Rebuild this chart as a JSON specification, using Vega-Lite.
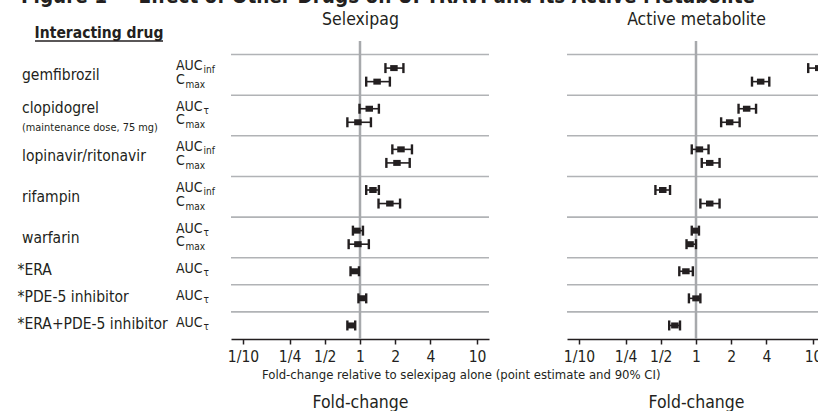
{
  "$schema": "https://vega.github.io/schema/vega-lite/v6.json",
  "background": "white",
  "padding": {"left": 0, "top": -14, "right": -7, "bottom": 0},
  "bounds": "flush",
  "spacing": 78,
  "title": {"text": "Figure 1 — Effect of Other Drugs on UPTRAVI and Its Active Metabolite", "anchor": "start", "dx": 21, "dy": 17, "fontSize": 20.5, "fontWeight": "bold", "offset": 4, "baseline": "alphabetic", "color": "#231f20"},
  "config": {
    "font": "'Liberation Sans Narrow', 'Arial Narrow', 'DejaVu Sans Condensed', sans-serif",
    "view": {"stroke": null},
    "text": {"color": "#231f20"}
  },
  "datasets": {
    "pk": [
      {"panel": "Selexipag", "row": "gem_AUC", "est": 1.95, "lo": 1.65, "hi": 2.35},
      {"panel": "Selexipag", "row": "gem_Cmax", "est": 1.40, "lo": 1.13, "hi": 1.80},
      {"panel": "Selexipag", "row": "clo_AUC", "est": 1.20, "lo": 0.99, "hi": 1.45},
      {"panel": "Selexipag", "row": "clo_Cmax", "est": 0.96, "lo": 0.78, "hi": 1.24},
      {"panel": "Selexipag", "row": "lop_AUC", "est": 2.24, "lo": 1.89, "hi": 2.78},
      {"panel": "Selexipag", "row": "lop_Cmax", "est": 2.07, "lo": 1.68, "hi": 2.66},
      {"panel": "Selexipag", "row": "rif_AUC", "est": 1.29, "lo": 1.13, "hi": 1.45},
      {"panel": "Selexipag", "row": "rif_Cmax", "est": 1.80, "lo": 1.44, "hi": 2.20},
      {"panel": "Selexipag", "row": "war_AUC", "est": 0.94, "lo": 0.87, "hi": 1.06},
      {"panel": "Selexipag", "row": "war_Cmax", "est": 0.96, "lo": 0.80, "hi": 1.19},
      {"panel": "Selexipag", "row": "ERA", "est": 0.90, "lo": 0.83, "hi": 0.98},
      {"panel": "Selexipag", "row": "PDE5", "est": 1.04, "lo": 0.97, "hi": 1.13},
      {"panel": "Selexipag", "row": "ERAPDE5", "est": 0.84, "lo": 0.78, "hi": 0.91},
      {"panel": "Active metabolite", "row": "gem_AUC", "est": 11.2, "lo": 9.1, "hi": 13.5},
      {"panel": "Active metabolite", "row": "gem_Cmax", "est": 3.57, "lo": 3.01, "hi": 4.23},
      {"panel": "Active metabolite", "row": "clo_AUC", "est": 2.71, "lo": 2.31, "hi": 3.26},
      {"panel": "Active metabolite", "row": "clo_Cmax", "est": 1.94, "lo": 1.64, "hi": 2.36},
      {"panel": "Active metabolite", "row": "lop_AUC", "est": 1.07, "lo": 0.92, "hi": 1.28},
      {"panel": "Active metabolite", "row": "lop_Cmax", "est": 1.31, "lo": 1.12, "hi": 1.59},
      {"panel": "Active metabolite", "row": "rif_AUC", "est": 0.52, "lo": 0.45, "hi": 0.60},
      {"panel": "Active metabolite", "row": "rif_Cmax", "est": 1.31, "lo": 1.09, "hi": 1.59},
      {"panel": "Active metabolite", "row": "war_AUC", "est": 1.00, "lo": 0.92, "hi": 1.06},
      {"panel": "Active metabolite", "row": "war_Cmax", "est": 0.89, "lo": 0.83, "hi": 1.00},
      {"panel": "Active metabolite", "row": "ERA", "est": 0.82, "lo": 0.72, "hi": 0.94},
      {"panel": "Active metabolite", "row": "PDE5", "est": 1.00, "lo": 0.87, "hi": 1.09},
      {"panel": "Active metabolite", "row": "ERAPDE5", "est": 0.66, "lo": 0.59, "hi": 0.73}
    ],
    "params": [
      {"row": "gem_AUC", "param": "AUC", "sub": "inf"},
      {"row": "gem_Cmax", "param": "C", "sub": "max"},
      {"row": "clo_AUC", "param": "AUC", "sub": "τ"},
      {"row": "clo_Cmax", "param": "C", "sub": "max"},
      {"row": "lop_AUC", "param": "AUC", "sub": "inf"},
      {"row": "lop_Cmax", "param": "C", "sub": "max"},
      {"row": "rif_AUC", "param": "AUC", "sub": "inf"},
      {"row": "rif_Cmax", "param": "C", "sub": "max"},
      {"row": "war_AUC", "param": "AUC", "sub": "τ"},
      {"row": "war_Cmax", "param": "C", "sub": "max"},
      {"row": "ERA", "param": "AUC", "sub": "τ"},
      {"row": "PDE5", "param": "AUC", "sub": "τ"},
      {"row": "ERAPDE5", "param": "AUC", "sub": "τ"}
    ],
    "drugs": [
      {"name": "gemfibrozil", "row": "gem_AUC", "kind": "pair"},
      {"name": "clopidogrel", "row": "clo_AUC", "kind": "single"},
      {"name": "(maintenance dose, 75 mg)", "row": "clo_Cmax", "kind": "note"},
      {"name": "lopinavir/ritonavir", "row": "lop_AUC", "kind": "pair"},
      {"name": "rifampin", "row": "rif_AUC", "kind": "pair"},
      {"name": "warfarin", "row": "war_AUC", "kind": "pair"},
      {"name": "*ERA", "row": "ERA", "kind": "star"},
      {"name": "*PDE-5 inhibitor", "row": "PDE5", "kind": "star"},
      {"name": "*ERA+PDE-5 inhibitor", "row": "ERAPDE5", "kind": "star"}
    ],
    "seps": [
      {"row": "s1"}, {"row": "s2"}, {"row": "s3"}, {"row": "s4"},
      {"row": "s5"}, {"row": "s6"}, {"row": "s7"}, {"row": "s8"}
    ]
  },
  "hconcat": [
    {
      "width": 153,
      "height": 298,
      "layer": [
        {
          "data": {"values": [{"h": "Interacting drug"}]},
          "mark": {"type": "text", "fontWeight": "bold", "fontSize": 15.5, "align": "center", "baseline": "middle", "dy": -8},
          "encoding": {
            "x": {"datum": "head", "type": "nominal", "scale": {"type": "point", "domain": ["drug", "head", "param"], "range": [22, 176], "padding": 0}, "axis": null},
            "y": {"datum": "hdr", "type": "nominal", "scale": {"type": "point", "domain": ["hdr","s1","gem_AUC","gem_Cmax","s2","clo_AUC","clo_Cmax","s3","lop_AUC","lop_Cmax","s4","rif_AUC","rif_Cmax","s5","war_AUC","war_Cmax","s6","ERA","s7","PDE5","s8","ERAPDE5"], "padding": 0.5, "align": 0}, "axis": null},
            "text": {"field": "h"}
          }
        },
        {
          "data": {"values": [{"h": "Interacting drug"}]},
          "mark": {"type": "tick", "orient": "horizontal", "size": 128, "thickness": 1.6, "color": "#231f20", "opacity": 1},
          "encoding": {
            "x": {"datum": "head", "type": "nominal"},
            "y": {"datum": "hdr", "type": "nominal"}
          }
        },
        {
          "data": {"name": "drugs"},
          "transform": [{"filter": "datum.kind == 'pair'"}],
          "mark": {"type": "text", "align": "left", "baseline": "middle", "fontSize": 15.5, "dy": 7},
          "encoding": {"x": {"datum": "drug", "type": "nominal"}, "y": {"field": "row", "type": "nominal"}, "text": {"field": "name"}}
        },
        {
          "data": {"name": "drugs"},
          "transform": [{"filter": "datum.kind == 'single'"}],
          "mark": {"type": "text", "align": "left", "baseline": "middle", "fontSize": 15.5, "dy": -1},
          "encoding": {"x": {"datum": "drug", "type": "nominal"}, "y": {"field": "row", "type": "nominal"}, "text": {"field": "name"}}
        },
        {
          "data": {"name": "drugs"},
          "transform": [{"filter": "datum.kind == 'star'"}],
          "mark": {"type": "text", "align": "left", "baseline": "middle", "fontSize": 15.5, "dy": -1, "dx": -4.5},
          "encoding": {"x": {"datum": "drug", "type": "nominal"}, "y": {"field": "row", "type": "nominal"}, "text": {"field": "name"}}
        },
        {
          "data": {"name": "drugs"},
          "transform": [{"filter": "datum.kind == 'note'"}],
          "mark": {"type": "text", "align": "left", "baseline": "middle", "fontSize": 10.9, "dy": 5.5},
          "encoding": {"x": {"datum": "drug", "type": "nominal"}, "y": {"field": "row", "type": "nominal"}, "text": {"field": "name"}}
        },
        {
          "data": {"name": "params"},
          "mark": {"type": "text", "align": "left", "baseline": "middle", "fontSize": 14, "dy": -2},
          "encoding": {"x": {"datum": "param", "type": "nominal"}, "y": {"field": "row", "type": "nominal"}, "text": {"field": "param"}}
        },
        {
          "data": {"name": "params"},
          "transform": [{"filter": "datum.param == 'AUC'"}],
          "mark": {"type": "text", "align": "left", "baseline": "middle", "fontSize": 10, "dx": 27.5, "dy": 2},
          "encoding": {"x": {"datum": "param", "type": "nominal"}, "y": {"field": "row", "type": "nominal"}, "text": {"field": "sub"}}
        },
        {
          "data": {"name": "params"},
          "transform": [{"filter": "datum.param == 'C'"}],
          "mark": {"type": "text", "align": "left", "baseline": "middle", "fontSize": 10, "dx": 9.5, "dy": 3},
          "encoding": {"x": {"datum": "param", "type": "nominal"}, "y": {"field": "row", "type": "nominal"}, "text": {"field": "sub"}}
        }
      ]
    },
    {
      "width": 258,
      "height": 298,
      "title": {"text": "Fold-change relative to selexipag alone (point estimate and 90% CI)", "orient": "bottom", "anchor": "start", "frame": "group", "dx": 31, "offset": -42, "fontSize": 13, "fontWeight": "normal", "baseline": "top", "color": "#231f20"},
      "layer": [
        {
          "data": {"name": "seps"},
          "mark": {"type": "rule", "color": "#b1b3b6", "strokeWidth": 1.6},
          "encoding": {
            "y": {"field": "row", "type": "nominal", "scale": {"type": "point", "domain": ["s1","gem_AUC","gem_Cmax","s2","clo_AUC","clo_Cmax","s3","lop_AUC","lop_Cmax","s4","rif_AUC","rif_Cmax","s5","war_AUC","war_Cmax","s6","ERA","s7","PDE5","s8","ERAPDE5"], "padding": 1},
              "axis": {"title": "Selexipag", "labels": false, "ticks": false, "domain": false, "grid": false, "titleAngle": 0, "titleX": 129, "titleY": -22, "titleAlign": "center", "titleBaseline": "middle", "titleFontSize": 17.5, "titleFontWeight": "normal", "titleColor": "#231f20"}}
          }
        },
        {
          "data": {"values": [{"ref": 1}]},
          "mark": {"type": "rule", "color": "#a7a9ac", "strokeWidth": 2.5},
          "encoding": {
            "x": {"field": "ref", "type": "quantitative", "scale": {"type": "log", "domain": [0.079, 12.66], "nice": false},
              "axis": {"values": [0.1, 0.25, 0.5, 1, 2, 4, 10], "labelExpr": "datum.value < 0.2 ? '1/10' : datum.value < 0.3 ? '1/4' : datum.value < 0.7 ? '1/2' : format(datum.value, 'd')", "title": "Fold-change", "titleFontSize": 17.5, "titleFontWeight": "normal", "titlePadding": 29, "labelFontSize": 15.5, "labelPadding": 5, "tickSize": 5, "tickWidth": 1.5, "tickColor": "#231f20", "domainColor": "#231f20", "domainWidth": 1.6, "labelColor": "#231f20", "titleColor": "#231f20", "grid": false, "labelFlush": false, "labelOverlap": false}}
          }
        },
        {
          "data": {"name": "pk"},
          "transform": [{"filter": "datum.panel == 'Selexipag'"}],
          "mark": {"type": "rule", "color": "#231f20", "strokeWidth": 1.6},
          "encoding": {
            "x": {"field": "lo", "type": "quantitative"},
            "x2": {"field": "hi"},
            "y": {"field": "row", "type": "nominal"}
          }
        },
        {
          "data": {"name": "pk"},
          "transform": [{"filter": "datum.panel == 'Selexipag'"}],
          "mark": {"type": "tick", "orient": "vertical", "color": "#231f20", "thickness": 2.4, "size": 10, "opacity": 1},
          "encoding": {
            "x": {"field": "lo", "type": "quantitative"},
            "y": {"field": "row", "type": "nominal"}
          }
        },
        {
          "data": {"name": "pk"},
          "transform": [{"filter": "datum.panel == 'Selexipag'"}],
          "mark": {"type": "tick", "orient": "vertical", "color": "#231f20", "thickness": 2.4, "size": 10, "opacity": 1},
          "encoding": {
            "x": {"field": "hi", "type": "quantitative"},
            "y": {"field": "row", "type": "nominal"}
          }
        },
        {
          "data": {"name": "pk"},
          "transform": [{"filter": "datum.panel == 'Selexipag'"}],
          "mark": {"type": "tick", "orient": "vertical", "color": "#231f20", "thickness": 7.5, "size": 6, "opacity": 1},
          "encoding": {
            "x": {"field": "est", "type": "quantitative"},
            "y": {"field": "row", "type": "nominal"}
          }
        }
      ]
    },
    {
      "width": 258,
      "height": 298,
      "layer": [
        {
          "data": {"name": "seps"},
          "mark": {"type": "rule", "color": "#b1b3b6", "strokeWidth": 1.6},
          "encoding": {
            "y": {"field": "row", "type": "nominal", "scale": {"type": "point", "domain": ["s1","gem_AUC","gem_Cmax","s2","clo_AUC","clo_Cmax","s3","lop_AUC","lop_Cmax","s4","rif_AUC","rif_Cmax","s5","war_AUC","war_Cmax","s6","ERA","s7","PDE5","s8","ERAPDE5"], "padding": 1},
              "axis": {"title": "Active metabolite", "labels": false, "ticks": false, "domain": false, "grid": false, "titleAngle": 0, "titleX": 129, "titleY": -22, "titleAlign": "center", "titleBaseline": "middle", "titleFontSize": 17.5, "titleFontWeight": "normal", "titleColor": "#231f20"}}
          }
        },
        {
          "data": {"values": [{"ref": 1}]},
          "mark": {"type": "rule", "color": "#a7a9ac", "strokeWidth": 2.5},
          "encoding": {
            "x": {"field": "ref", "type": "quantitative", "scale": {"type": "log", "domain": [0.079, 12.66], "nice": false},
              "axis": {"values": [0.1, 0.25, 0.5, 1, 2, 4, 10], "labelExpr": "datum.value < 0.2 ? '1/10' : datum.value < 0.3 ? '1/4' : datum.value < 0.7 ? '1/2' : format(datum.value, 'd')", "title": "Fold-change", "titleFontSize": 17.5, "titleFontWeight": "normal", "titlePadding": 29, "labelFontSize": 15.5, "labelPadding": 5, "tickSize": 5, "tickWidth": 1.5, "tickColor": "#231f20", "domainColor": "#231f20", "domainWidth": 1.6, "labelColor": "#231f20", "titleColor": "#231f20", "grid": false, "labelFlush": false, "labelOverlap": false}}
          }
        },
        {
          "data": {"name": "pk"},
          "transform": [{"filter": "datum.panel == 'Active metabolite'"}],
          "mark": {"type": "rule", "color": "#231f20", "strokeWidth": 1.6, "clip": true},
          "encoding": {
            "x": {"field": "lo", "type": "quantitative"},
            "x2": {"field": "hi"},
            "y": {"field": "row", "type": "nominal"}
          }
        },
        {
          "data": {"name": "pk"},
          "transform": [{"filter": "datum.panel == 'Active metabolite'"}],
          "mark": {"type": "tick", "orient": "vertical", "color": "#231f20", "thickness": 2.4, "size": 10, "opacity": 1, "clip": true},
          "encoding": {
            "x": {"field": "lo", "type": "quantitative"},
            "y": {"field": "row", "type": "nominal"}
          }
        },
        {
          "data": {"name": "pk"},
          "transform": [{"filter": "datum.panel == 'Active metabolite'"}],
          "mark": {"type": "tick", "orient": "vertical", "color": "#231f20", "thickness": 2.4, "size": 10, "opacity": 1, "clip": true},
          "encoding": {
            "x": {"field": "hi", "type": "quantitative"},
            "y": {"field": "row", "type": "nominal"}
          }
        },
        {
          "data": {"name": "pk"},
          "transform": [{"filter": "datum.panel == 'Active metabolite'"}],
          "mark": {"type": "tick", "orient": "vertical", "color": "#231f20", "thickness": 7.5, "size": 6, "opacity": 1, "clip": true},
          "encoding": {
            "x": {"field": "est", "type": "quantitative"},
            "y": {"field": "row", "type": "nominal"}
          }
        }
      ]
    }
  ]
}
